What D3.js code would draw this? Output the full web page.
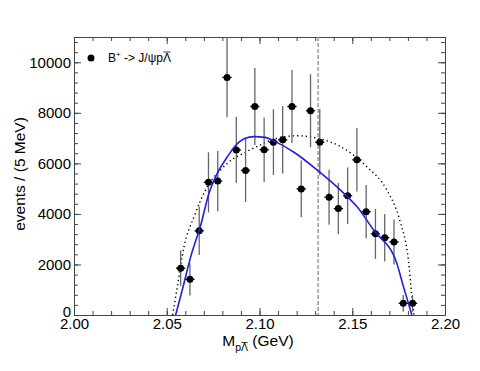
<!DOCTYPE html>
<html>
<head>
<meta charset="utf-8">
<script src="https://cdn.jsdelivr.net/npm/d3@7"></script>
<style>
  body { margin: 0; background: #fff; }
  svg { font-family: "Liberation Sans", Arial, sans-serif; }
</style>
</head>
<body>
<div id="chart"></div>
<script>
// bin centres (GeV) and counts per 5 MeV
const massBins = [2.0575, 2.0625, 2.0675, 2.0725, 2.0775, 2.0825, 2.0875, 2.0925, 2.0975, 2.1025,
  2.1075, 2.1125, 2.1175, 2.1225, 2.1275, 2.1325, 2.1375, 2.1425, 2.1475, 2.1525,
  2.1575, 2.1625, 2.1675, 2.1725, 2.1775, 2.1825];
const counts = [1850, 1410, 3330, 5250, 5300, 9400, 6530, 5720, 8250, 6540,
  6840, 6930, 8250, 4990, 8080, 6840, 4660, 4210, 4720, 6140,
  4090, 3210, 3060, 2890, 460, 460];
const countErrors = [700, 640, 960, 1190, 1190, 1580, 1300, 1250, 1520, 1275,
  1300, 1335, 1440, 1125, 1445, 1310, 1090, 1010, 1120, 1255,
  1055, 990, 940, 890, 330, 330];

// fit curve (blue, solid)
const fitX = [2.0548, 2.0584, 2.0629, 2.0683, 2.0727, 2.0772, 2.0826, 2.0870, 2.0920, 2.0970,
  2.1030, 2.1077, 2.1190, 2.1310, 2.1435, 2.1525, 2.1614, 2.1740, 2.1776, 2.1803, 2.1821];
const fitY = [0, 1000, 2300, 3550, 4800, 5600, 6250, 6700, 6980, 7060,
  7030, 6890, 6420, 5740, 4950, 4290, 3370, 2050, 1120, 460, 0];

// phase space curve (black, dotted)
const psX = [2.0532, 2.0557, 2.0593, 2.0647, 2.0719, 2.0790, 2.0862, 2.0898, 2.1005, 2.1095,
  2.1203, 2.1310, 2.1435, 2.1578, 2.1686, 2.1758, 2.1803, 2.1821, 2.1833];
const psY = [0, 1120, 2700, 3890, 5080, 5740, 6200, 6340, 6730, 7000,
  7090, 7000, 6670, 5870, 4950, 3700, 2150, 800, 0];

const thresholdMass = 2.1316;
const xTicks = [2.00, 2.05, 2.10, 2.15, 2.20];
const yTicks = [0, 2000, 4000, 6000, 8000, 10000];

const width = 480, height = 371;
const margin = { top: 37, right: 35, bottom: 56, left: 74 };
const plotW = width - margin.left - margin.right;
const plotH = height - margin.top - margin.bottom;

const svg = d3.select("#chart").append("svg")
  .attr("width", width)
  .attr("height", height);

const x = d3.scaleLinear().domain([2.0, 2.2]).range([margin.left, margin.left + plotW]);
const y = d3.scaleLinear().domain([0, 11000]).range([margin.top + plotH, margin.top]);

svg.append("clipPath").attr("id", "plot-clip")
  .append("rect")
  .attr("x", margin.left).attr("y", margin.top)
  .attr("width", plotW).attr("height", plotH);

const axisColor = "#444";
const minorX = d3.range(2.0, 2.2001, 0.01);
const minorY = d3.range(0, 11001, 400);

function styleAxis(g) {
  g.select(".domain").attr("stroke", axisColor);
  g.selectAll(".tick line").attr("stroke", axisColor);
  g.selectAll(".tick text").attr("fill", "#000").style("font-size", "15px");
}

// minor ticks first
svg.append("g").attr("transform", `translate(0,${margin.top + plotH})`)
  .call(d3.axisBottom(x).tickValues(minorX).tickSize(-4).tickFormat(""))
  .call(styleAxis);
svg.append("g").attr("transform", `translate(0,${margin.top})`)
  .call(d3.axisTop(x).tickValues(minorX).tickSize(-4).tickFormat(""))
  .call(styleAxis);
svg.append("g").attr("transform", `translate(${margin.left},0)`)
  .call(d3.axisLeft(y).tickValues(minorY).tickSize(-4).tickFormat(""))
  .call(styleAxis);
svg.append("g").attr("transform", `translate(${margin.left + plotW},0)`)
  .call(d3.axisRight(y).tickValues(minorY).tickSize(-4).tickFormat(""))
  .call(styleAxis);

// major ticks with labels
svg.append("g").attr("transform", `translate(0,${margin.top + plotH})`)
  .call(d3.axisBottom(x).tickValues(xTicks).tickSize(-7).tickPadding(3).tickFormat(d3.format(".2f")))
  .call(styleAxis);
svg.append("g").attr("transform", `translate(0,${margin.top})`)
  .call(d3.axisTop(x).tickValues(xTicks).tickSize(-7).tickFormat(""))
  .call(styleAxis);
svg.append("g").attr("transform", `translate(${margin.left},0)`)
  .call(d3.axisLeft(y).tickValues(yTicks).tickSize(-7).tickPadding(3).tickFormat(d3.format("d")))
  .call(styleAxis)
  .call(g => g.selectAll(".tick text").filter(d => d === 0).attr("dy", "0.1em"));
svg.append("g").attr("transform", `translate(${margin.left + plotW},0)`)
  .call(d3.axisRight(y).tickValues(yTicks).tickSize(-7).tickFormat(""))
  .call(styleAxis);

const plot = svg.append("g").attr("clip-path", "url(#plot-clip)");

// threshold line
plot.append("line")
  .attr("x1", x(thresholdMass)).attr("x2", x(thresholdMass))
  .attr("y1", margin.top).attr("y2", margin.top + plotH)
  .attr("stroke", "#999")
  .attr("stroke-width", 1.5)
  .attr("stroke-dasharray", "4,2");

// phase space (dotted)
plot.append("path")
  .datum(d3.zip(psX, psY))
  .attr("fill", "none")
  .attr("stroke", "#000")
  .attr("stroke-width", 1.4)
  .attr("stroke-dasharray", "1.3,3")
  .attr("d", d3.line().x(d => x(d[0])).y(d => y(d[1])).curve(d3.curveMonotoneX));

// data points
const points = massBins.map((m, i) => ({ m, v: counts[i], e: countErrors[i] }));

plot.selectAll(".err").data(points).enter().append("line")
  .attr("class", "err")
  .attr("x1", d => x(d.m)).attr("x2", d => x(d.m))
  .attr("y1", d => y(d.v - d.e)).attr("y2", d => y(d.v + d.e))
  .attr("stroke", "#666").attr("stroke-width", 1.3);

plot.selectAll(".herr").data(points).enter().append("line")
  .attr("class", "herr")
  .attr("x1", d => x(d.m - 0.0025)).attr("x2", d => x(d.m + 0.0025))
  .attr("y1", d => y(d.v)).attr("y2", d => y(d.v))
  .attr("stroke", "#000").attr("stroke-width", 1.3);

plot.selectAll(".pt").data(points).enter().append("circle")
  .attr("class", "pt")
  .attr("cx", d => x(d.m)).attr("cy", d => y(d.v))
  .attr("r", 3.5).attr("fill", "#000");

// fit (blue)
plot.append("path")
  .datum(d3.zip(fitX, fitY))
  .attr("fill", "none")
  .attr("stroke", "#1f1fe6")
  .attr("stroke-width", 1.6)
  .attr("d", d3.line().x(d => x(d[0])).y(d => y(d[1])).curve(d3.curveMonotoneX));

// legend
svg.append("circle").attr("cx", 91).attr("cy", 58).attr("r", 3.5).attr("fill", "#000");
const legendText = svg.append("text")
  .attr("x", 108).attr("y", 62)
  .style("font-size", "12px");
legendText.append("tspan").text("B");
legendText.append("tspan").attr("dy", -5).style("font-size", "8px").text("+");
legendText.append("tspan").attr("dy", 5).text(" -> J/\u03c8p\u039b");
// overline on the Lambda
{
  const node = legendText.node();
  const n = node.getNumberOfChars();
  const ext = node.getExtentOfChar(n - 1);
  svg.append("line")
    .attr("x1", ext.x + 0.5).attr("x2", ext.x + ext.width - 0.5)
    .attr("y1", ext.y + 1).attr("y2", ext.y + 1)
    .attr("stroke", "#000").attr("stroke-width", 0.8);
}

// y axis title
svg.append("text")
  .attr("transform", `translate(25,${margin.top + plotH / 2 - 2}) rotate(-90)`)
  .attr("text-anchor", "middle")
  .style("font-size", "15.5px")
  .text("events / (5 MeV)");

// x axis title
const xTitle = svg.append("text")
  .attr("x", 258).attr("y", 346)
  .attr("text-anchor", "middle")
  .style("font-size", "15.5px");
xTitle.append("tspan").text("M");
xTitle.append("tspan").attr("dy", 5).style("font-size", "10.5px").text("p\u039b");
xTitle.append("tspan").attr("dy", -5).text(" (GeV)");
{
  const node = xTitle.node();
  const ext = node.getExtentOfChar(2);
  svg.append("line")
    .attr("x1", ext.x + 0.5).attr("x2", ext.x + ext.width - 0.5)
    .attr("y1", ext.y + 1.5).attr("y2", ext.y + 1.5)
    .attr("stroke", "#000").attr("stroke-width", 0.8);
}
</script>
</body>
</html>
